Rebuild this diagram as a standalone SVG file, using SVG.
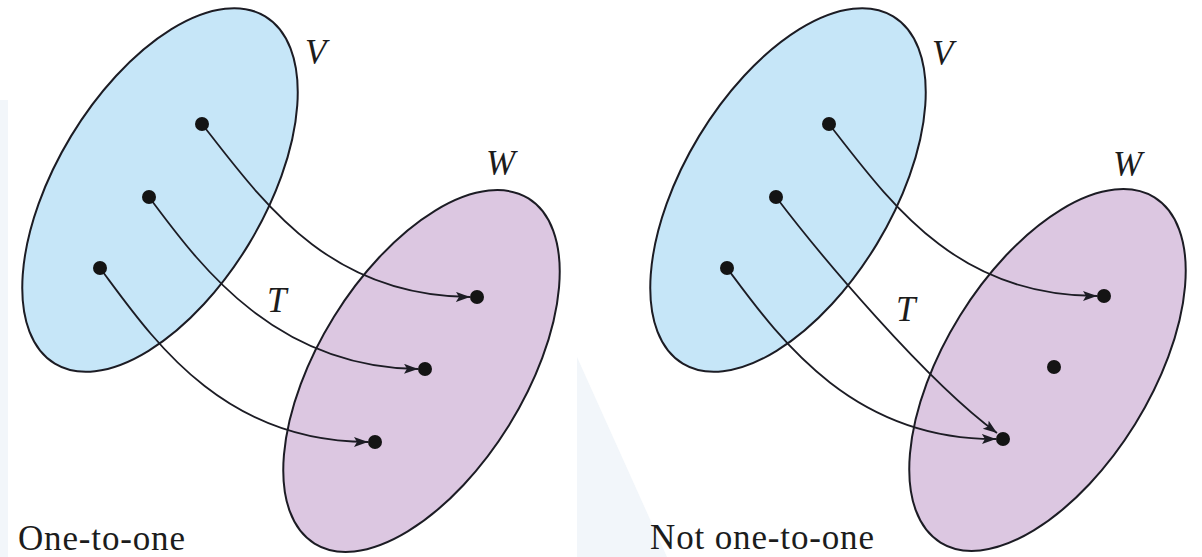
<svg xmlns="http://www.w3.org/2000/svg" width="1202" height="557" viewBox="0 0 1202 557">
<style>
.bg{fill:#f2f6fa;stroke:none}
.setV{fill:#c6e6f8;stroke:#1c1c24;stroke-width:2}
.setW{fill:#dcc7e1;stroke:#1c1c24;stroke-width:2}
.dot{fill:#141414}
.conn{fill:none;stroke:#1c1c24;stroke-width:1.8;marker-end:url(#ah)}
.lbl{font-family:"Liberation Serif","Times New Roman",serif;font-style:italic;font-size:35px;fill:#1c1c1c}
.cap{font-family:"Liberation Serif","Times New Roman",serif;font-size:35px;fill:#1c1c1c}
</style>
<defs>
<marker id="ah" markerUnits="userSpaceOnUse" markerWidth="16" markerHeight="12" refX="14" refY="5" orient="auto">
<path d="M0,0 L14,5 L0,10 L3,5 z" fill="#1c1c24"/>
</marker>
</defs>
<rect width="1202" height="557" fill="#ffffff"/>
<g id="background">
<rect class="bg" x="0" y="100" width="8" height="457"/>
<polygon class="bg" points="577,357 667,557 577,557"/>
</g>
<g id="left-V">
<ellipse class="setV" cx="160" cy="190" rx="203" ry="104" transform="rotate(-58.8 160 190)"/>
<text class="lbl" x="305" y="64">V</text>
</g>
<g id="left-W">
<ellipse class="setW" cx="421.5" cy="371" rx="203" ry="103" transform="rotate(-58.2 421.5 371)"/>
<text class="lbl" x="486" y="175">W</text>
</g>
<g id="right-V">
<ellipse class="setV" cx="788" cy="190" rx="203" ry="104" transform="rotate(-58.8 788 190)"/>
<text class="lbl" x="932" y="65">V</text>
</g>
<g id="right-W">
<ellipse class="setW" cx="1047.5" cy="370" rx="203" ry="103" transform="rotate(-58.2 1047.5 370)"/>
<text class="lbl" x="1113" y="176">W</text>
</g>
<g id="connectors">
<path class="conn" d="M202,124 C265,205 330,296 470,297"/>
<path class="conn" d="M149,197 C195,258 270,367 418,369"/>
<path class="conn" d="M100,268 C150,335 220,442 368,442"/>
<path class="conn" d="M829,124 C892,205 957,296 1097,296"/>
<path class="conn" d="M776,197 C820,255 925,380 997,433"/>
<path class="conn" d="M727,268 C777,335 850,440 996,439"/>
</g>
<g id="left-points">
<circle class="dot" cx="202" cy="124" r="7"/>
<circle class="dot" cx="149" cy="197" r="7"/>
<circle class="dot" cx="100" cy="268" r="7"/>
<circle class="dot" cx="477" cy="297" r="7"/>
<circle class="dot" cx="425" cy="369" r="7"/>
<circle class="dot" cx="375" cy="442" r="7"/>
</g>
<g id="right-points">
<circle class="dot" cx="829" cy="124" r="7"/>
<circle class="dot" cx="776" cy="197" r="7"/>
<circle class="dot" cx="727" cy="268" r="7"/>
<circle class="dot" cx="1104" cy="296" r="7"/>
<circle class="dot" cx="1054" cy="367" r="7"/>
<circle class="dot" cx="1003" cy="439" r="7"/>
</g>
<g id="labels">
<text class="lbl" x="267" y="312">T</text>
<text class="lbl" x="896" y="321">T</text>
<text class="cap" x="18" y="550" textLength="167" lengthAdjust="spacing">One-to-one</text>
<text class="cap" x="650" y="549" textLength="224" lengthAdjust="spacing">Not one-to-one</text>
</g>
</svg>
